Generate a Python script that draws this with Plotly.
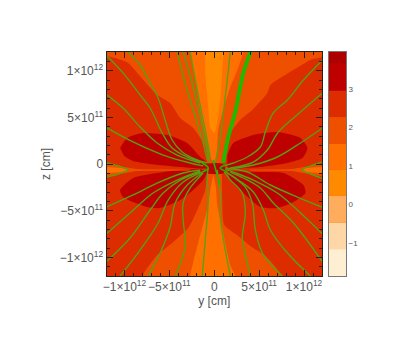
import plotly.graph_objects as go
from plotly.subplots import make_subplots

# all region and line positions are in units of 1e11 cm
UNIT = 1e11

tick_vals = [-1e12, -5e11, 0, 5e11, 1e12]
x_tick_text = ["−1×10<sup>12</sup>", "−5×10<sup>11</sup>", "0", "5×10<sup>11</sup>", "1×10<sup>12</sup>"]
y_tick_text = ["−1×10<sup>12</sup>", "−5×10<sup>11</sup>", "0", "5×10<sup>11</sup>", "1×10<sup>12</sup>"]

# colour bar levels
level_edges = [-1.86, -1.16, -0.48, 0.22, 0.9, 1.57, 2.27, 2.95, 3.65, 3.96]
level_colors = ["#FFEFD2", "#FFD6A6", "#FFAC5C", "#FF8A00", "#FF7000",
                "#EE5000", "#DC2C00", "#BE0000", "#AE0000"]
cbar_ticks = [-1, 0, 1, 2, 3]

BG = "#EE5000"
ORANGE = "#FF7000"
LIGHT = "#FF8A00"
RED = "#DC2C00"
DEEP = "#BE0000"

# contour regions, (y, z)
red_left = [(-15, 13), (-12, 11.6), (-11.05, 11.36), (-9.6, 10.83), (-7.7, 8.79), (-6.36, 7.4), (-4.91, 6.54),
            (-3.79, 4.93), (-2.34, 3.86), (-1.0, 1.82), (-0.78, -0.11), (-1.0, -2.79), (-1.79, -4.72),
            (-2.9, -6.86), (-4.69, -8.47), (-6.36, -9.76), (-8.04, -12), (-9, -14), (-15, -14)]
red_right = [(15, 13), (12, 11.47), (10.71, 11.15), (8.82, 10.08), (6.25, 8.47), (5.91, 7.61), (4.24, 5.79),
             (2.9, 4.72), (1.79, 3.32), (1.23, 1.5), (0.89, -0.11), (0.89, -3.86), (1.12, -6.54),
             (2.68, -7.72), (4.02, -8.79), (5.69, -9.86), (7.59, -12), (8.5, -14), (15, -14)]
orange_top = [(-3, 14), (-2.68, 12), (-2.12, 9), (-1.56, 5.79), (-1, 3.11), (-0.45, 0.8), (-0.1, 0.2), (0.25, 0.8),
              (0.45, 3.64), (1, 5.79), (1.79, 8.25), (2.57, 10.08), (3.24, 12), (3.6, 14)]
light_top = [(-1, 14), (-1, 12), (-1, 9.76), (-0.67, 6.11), (-0.45, 3.86), (0, 3.32), (0.22, 3.86),
             (0.67, 6.86), (1, 12), (1.1, 14)]
orange_bottom = [(-0.1, -1.2), (-0.4, -2.5), (-0.67, -4.4), (-1.56, -7.61), (-2.34, -10.5), (-2.68, -12), (-3, -14),
                 (2.7, -14), (2.34, -12), (1.79, -10.83), (0.89, -6.86), (0.33, -4.4), (0.2, -2.5)]
deep_lu = [(-10.49, 1.72), (-9.71, 2.79), (-7.92, 3.32), (-5.25, 3.11), (-3.01, 2.25), (-1.56, 0.75),
           (-0.78, 0.11), (-1, -0.43), (-3.79, -0.32), (-7.14, 0), (-9.04, 0.32), (-10.04, 0.86)]
deep_ll = [(-1.56, -0.54), (-3.79, -0.64), (-6.36, -0.96), (-9.04, -1.5), (-10.49, -2.79), (-10.16, -3.54),
           (-7.48, -4.61), (-6.03, -4.72), (-3.79, -3.86), (-2.34, -2.79), (-1.23, -1.72), (-0.78, -0.86)]
deep_ru = [(1.45, 0.96), (2.12, 2.25), (4.35, 3.11), (7.03, 3.43), (9.6, 2.79), (10.38, 1.72),
           (9.82, 0.64), (8.15, 0.11), (5.13, -0.32), (1.45, -0.54)]
deep_rl = [(1.45, -0.75), (5.13, -0.86), (7.7, -0.96), (9.93, -2.25), (10.16, -3.11), (8.82, -4.07),
           (7.03, -4.72), (5.13, -4.61), (3.24, -3.11), (1.79, -1.72)]
deep_core = [(-1, 0.05), (0.89, 0.05), (1.34, -0.64), (0.89, -1.05), (-0.89, -1.05)]
wedge_left = [(-12, 0), (-8, -0.64), (-12, -1.3)]
wedge_right = [(12, 0), (8, -0.64), (12, -1.3)]
strip_left = [(-9.6, -0.55), (-2.7, -0.6), (-2.7, -0.7), (-9.6, -0.75)]
strip_right = [(9.7, -0.55), (4, -0.6), (4, -0.7), (9.7, -0.75)]
tip_left = [(-12, -0.32), (-10.27, -0.43), (-9.6, -0.64), (-10.27, -0.86), (-12, -0.96)]
tip_right = [(12, -0.32), (10.16, -0.43), (9.71, -0.64), (10.16, -0.86), (12, -0.96)]

smooth_regions = [
    (red_left, RED), (red_right, RED), (orange_top, ORANGE), (light_top, LIGHT), (orange_bottom, ORANGE),
    (deep_lu, DEEP), (deep_ll, DEEP), (deep_ru, DEEP), (deep_rl, DEEP), (deep_core, DEEP),
]
sharp_regions = [
    (wedge_left, BG), (wedge_right, BG), (strip_left, BG), (strip_right, BG),
    (tip_left, ORANGE), (tip_right, ORANGE),
]

# field lines, (y, z)
field_lines = [
    [(-9.6, 12), (-8.26, 10.61), (-7.14, 8.68), (-6.25, 7.08), (-5.47, 4.72), (-4.69, 2.57), (-3.57, 1.29), (-1.9, 0.43), (-0.78, 0.11)],
    [(-11.94, 11.58), (-10.16, 9.76), (-8.26, 7.4), (-7.14, 6), (-5.8, 3.32), (-4.69, 1.72), (-3.01, 0.75), (-1.23, 0.11)],
    [(-12.1, 7.5), (-10.16, 6), (-8.26, 3.97), (-6.36, 2.25), (-4.13, 0.96), (-1.56, 0.11)],
    [(-12.1, 3.95), (-9.04, 2.36), (-5.69, 0.96), (-2.68, 0.11), (-1.23, -0.2)],
    [(-12.1, 0.15), (-10.71, -0.21), (-9.6, -0.64), (-10.71, -1.07), (-12.1, -1.43)],
    [(-4.13, 12), (-3.24, 8.68), (-2.34, 5.79), (-1.23, 2.25), (-0.78, 0.43)],
    [(-3.46, 12), (-2.46, 8.68), (-1.56, 5.04), (-0.78, 1.5), (-0.56, 0.11)],
    [(-2.68, 12), (-1.9, 7.93), (-1, 3.64), (-0.45, 0.75)],
    [(1.79, 12), (1.23, 7.18), (0.67, 2.89), (0.11, 0.11)],
    [(12.1, 11.2), (9.93, 9), (8.15, 6.86), (6.58, 5.47), (5.69, 3.43), (5.13, 1.82), (3.68, 0.75), (2.12, 0.11), (1.12, -0.2)],
    [(12.1, 7.65), (9.6, 5.57), (7.14, 3.43), (5.91, 1.5), (4.35, 0.21), (1.79, -0.43)],
    [(12.1, 3.9), (9.6, 2.25), (7.03, 0.75), (4.35, -0.11), (1.56, -0.54)],
    [(12.1, 0.25), (10.71, -0.21), (9.82, -0.64), (10.71, -1.07), (12.1, -1.55)],
    [(12.1, -4.65), (9.26, -3.54), (6.25, -2.25), (3.68, -0.86), (1.23, -0.43)],
    [(12.1, -7.55), (9.26, -4.93), (7.03, -3.11), (4.35, -1.72), (2.12, -0.86), (1.23, -0.54)],
    [(12.1, -10.55), (8.82, -6.32), (6.58, -4.18), (5.13, -2.57), (3.24, -1.5), (1.79, -0.86)],
    [(10.71, -12), (8.15, -9.54), (6.25, -7.07), (5.47, -4.93), (4.35, -3), (2.68, -1.72), (1.45, -0.96)],
    [(7.59, -12), (5.36, -9.54), (4.58, -7.07), (4.24, -4.18), (3.46, -2.47), (2.12, -1.39), (1.34, -0.86)],
    [(4.02, -12), (3.46, -9.76), (3.12, -7.93), (3.24, -6.86), (3.46, -5.25), (3.12, -3.11), (1.79, -1.72), (1.12, -0.86)],
    [(1.79, -12), (1.23, -9.22), (0.67, -5.68), (0.67, -3.11), (0.45, -1.72), (0.33, -0.64)],
    [(-12.1, -4.65), (-9.04, -3.32), (-6.36, -2.04), (-3.46, -0.96), (-1.56, -0.64)],
    [(-12.1, -7.55), (-9.38, -5.25), (-6.81, -3.11), (-4.13, -1.72), (-1.56, -0.75)],
    [(-12.1, -10.55), (-9.38, -7.93), (-7.14, -4.93), (-5.69, -3.11), (-3.79, -1.72), (-1.56, -0.86)],
    [(-10.49, -12), (-8.26, -9.22), (-6.25, -6.32), (-5.13, -3.86), (-3.46, -1.93), (-1.34, -0.86)],
    [(-7.37, -12), (-6.03, -9.54), (-4.91, -6.75), (-4.35, -4.18), (-3.01, -2.25), (-1.34, -0.96)],
    [(-4.35, -12), (-3.24, -8.9), (-3.46, -6), (-3.46, -4.18), (-2.68, -2.57), (-1.23, -0.96)],
    [(-1.34, -12), (-1, -8.15), (-0.67, -3.86), (-0.78, -1.39), (-0.67, -0.43)],
]
bright_lines = [
    [(-1.34, 0.11), (-0.67, -0.43), (-1.34, -0.86)],
    [(1.23, -0.11), (0.67, -0.43), (1.45, -0.86)],
    [(-0.11, 0.43), (0.11, -0.43), (0.67, -2.25)],
]
thick_line = [(4.13, 12.2), (3.24, 9.76), (2.34, 5.57), (1.56, 2.89), (1, 0.11)]

LINE_GREEN = "#58A012"
BRIGHT_GREEN = "#22B800"
TEXT = "#555555"
FONT = "Liberation Sans"

# the page body keeps an 8px margin, so the figure is 16px smaller than the window
FIG_W = 383
FIG_H = 330
PAGE_MARGIN = 8
MARGIN_L = 70
MARGIN_B = 40


def dom_x(left, right):
    inner = FIG_W - MARGIN_L
    return [(left - PAGE_MARGIN - MARGIN_L) / inner, (right - PAGE_MARGIN - MARGIN_L) / inner]


def dom_y(top, bottom):
    inner = FIG_H - MARGIN_B
    return [1 - (bottom - PAGE_MARGIN) / inner, 1 - (top - PAGE_MARGIN) / inner]


fig = make_subplots(rows=1, cols=2)

for pts, color in smooth_regions:
    fig.add_trace(go.Scatter(x=[p[0] * UNIT for p in pts], y=[p[1] * UNIT for p in pts], mode="lines",
                             fill="toself", fillcolor=color, line=dict(width=0, shape="spline", smoothing=0.6),
                             hoverinfo="skip"), row=1, col=1)

for pts, color in sharp_regions:
    fig.add_trace(go.Scatter(x=[p[0] * UNIT for p in pts], y=[p[1] * UNIT for p in pts], mode="lines",
                             fill="toself", fillcolor=color, line=dict(width=0), hoverinfo="skip"), row=1, col=1)

for pts in field_lines:
    fig.add_trace(go.Scatter(x=[p[0] * UNIT for p in pts], y=[p[1] * UNIT for p in pts], mode="lines",
                             line=dict(color=LINE_GREEN, width=1.4, shape="spline")), row=1, col=1)

for pts in bright_lines:
    fig.add_trace(go.Scatter(x=[p[0] * UNIT for p in pts], y=[p[1] * UNIT for p in pts], mode="lines",
                             line=dict(color=BRIGHT_GREEN, width=1.6, shape="spline")), row=1, col=1)

fig.add_trace(go.Scatter(x=[p[0] * UNIT for p in thick_line], y=[p[1] * UNIT for p in thick_line], mode="lines",
                         line=dict(color=BRIGHT_GREEN, width=4, shape="spline")), row=1, col=1)

# colour bar drawn as stacked bands
for i, color in enumerate(level_colors):
    fig.add_trace(go.Bar(x=[0], y=[level_edges[i + 1] - level_edges[i]], base=[level_edges[i]], width=1,
                         marker=dict(color=color, line=dict(width=0))), row=1, col=2)

fig.update_layout(
    width=FIG_W, height=FIG_H, margin=dict(l=MARGIN_L, r=0, t=0, b=MARGIN_B), showlegend=False, barmode="overlay",
    paper_bgcolor="white", plot_bgcolor=BG, font=dict(family=FONT, color=TEXT, size=12),
)
fig.update_xaxes(
    domain=dom_x(106.5, 322), range=[-1.2e12, 1.2e12], tickvals=tick_vals, ticktext=x_tick_text,
    ticks="inside", ticklen=6, tickwidth=1, tickcolor="#222222", showgrid=False, zeroline=False,
    showline=True, linecolor="#222222", linewidth=1, mirror="ticks", automargin=True, tickangle=0,
    minor=dict(dtick=1e11, ticks="inside", ticklen=3, tickwidth=1, tickcolor="#222222", showgrid=False),
    title=dict(text="y [cm]", standoff=1, font=dict(size=12, color=TEXT)), tickfont=dict(size=12, color=TEXT),
    row=1, col=1,
)
fig.update_yaxes(
    domain=dom_y(52, 276), range=[-1.2e12, 1.2e12], tickvals=tick_vals, ticktext=y_tick_text,
    ticks="inside", ticklen=6, tickwidth=1, tickcolor="#222222", showgrid=False, zeroline=False,
    showline=True, linecolor="#222222", linewidth=1, mirror="ticks", automargin=True,
    minor=dict(dtick=1e11, ticks="inside", ticklen=3, tickwidth=1, tickcolor="#222222", showgrid=False),
    title=dict(text="z [cm]", standoff=6, font=dict(size=12, color=TEXT)), tickfont=dict(size=12, color=TEXT),
    row=1, col=1,
)
fig.update_xaxes(
    domain=dom_x(329, 346), range=[-0.5, 0.5], showticklabels=False, ticks="", showgrid=False,
    zeroline=False, showline=True, linecolor="#777777", linewidth=1, mirror=True, automargin=False, row=1, col=2,
)
fig.update_yaxes(
    domain=dom_y(52, 276), range=[level_edges[0], level_edges[-1]], tickvals=cbar_ticks,
    side="right", ticks="", showgrid=False, zeroline=False, showline=True, linecolor="#777777", linewidth=1,
    mirror=True, automargin=False, tickfont=dict(size=8, color=TEXT), row=1, col=2,
)

fig.write_html("out.html")
